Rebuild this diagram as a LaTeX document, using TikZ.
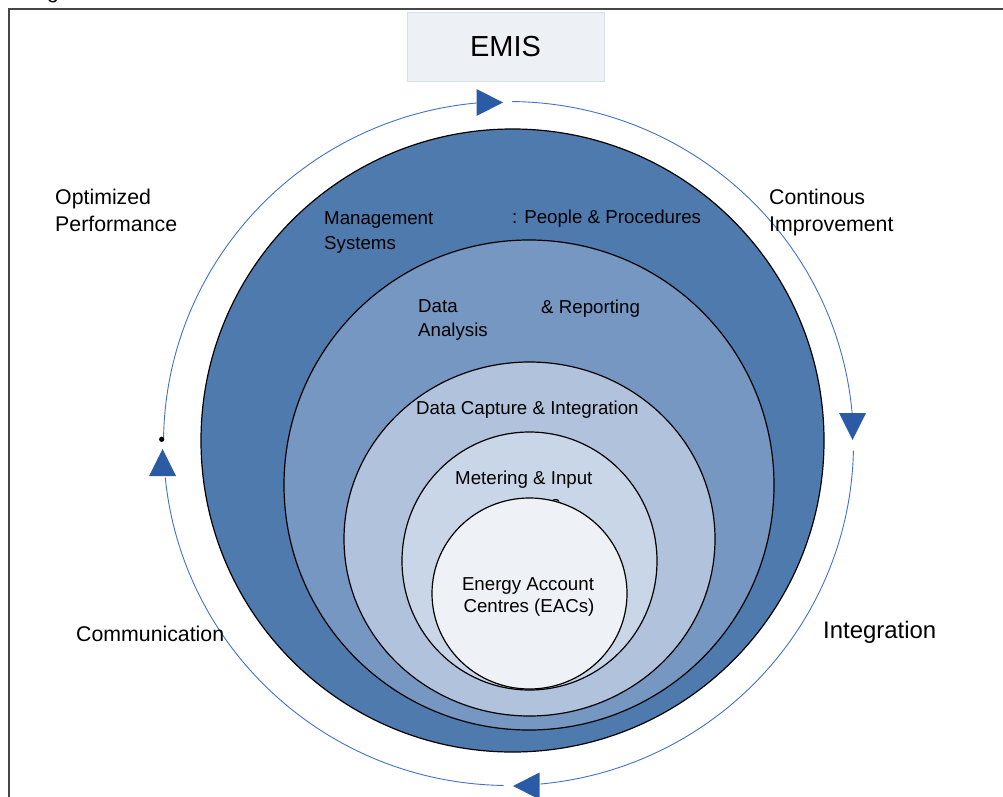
\documentclass[tikz,border=0pt]{standalone}
\usepackage{fontspec}
\setmainfont{Liberation Sans}
\definecolor{ringdark}{RGB}{79,122,173}
\definecolor{ringmid}{RGB}{117,151,194}
\definecolor{ringlight}{RGB}{177,195,220}
\definecolor{ringpale}{RGB}{201,214,231}
\definecolor{corefill}{RGB}{238,241,246}
\definecolor{cyclelinecol}{RGB}{68,114,196}
\definecolor{cyclearrowcol}{RGB}{43,91,164}
\definecolor{emisfill}{RGB}{237,240,245}
\definecolor{emisborder}{RGB}{208,226,238}
\definecolor{framecol}{RGB}{70,70,70}
\begin{document}
\begin{tikzpicture}[x=1pt,y=-1pt,
  layer/.style={draw=black, line width=1.2pt},
  cycleline/.style={draw=cyclelinecol, line width=0.9pt},
  cyclehead/.style={fill=cyclearrowcol},
  lbl/.style={font=\fontsize{18.7}{24}\selectfont, inner sep=0pt, anchor=base west},
  sidelbl/.style={font=\fontsize{21.3}{27}\selectfont, inner sep=0pt, anchor=base west}]
\useasboundingbox (0,0) rectangle (1003,797);

% caption remnant and frame
\node[font=\fontsize{21.3}{27}\selectfont, inner sep=0pt, anchor=base west] (capg) at (47,-1.8) {g};
\draw[framecol, line width=1.5pt] (9,820) -- (9,9) -- (1020,9);

% EMIS title box
\node[draw=emisborder, fill=emisfill, line width=0.8pt, minimum width=197pt, minimum height=69pt,
      font=\fontsize{29}{34}\selectfont, inner sep=0pt] (emis) at (505.5,46.5) {EMIS};

% nested layers
\filldraw[layer, fill=ringdark]  (512.5,440.5) circle[radius=311.5];
\filldraw[layer, fill=ringmid]   (529,485) circle[radius=245];
\filldraw[layer, fill=ringlight] (529.5,539) ellipse[x radius=185.5, y radius=177];
\filldraw[layer, fill=ringpale]  (529.5,561) ellipse[x radius=127.5, y radius=129];
\node[lbl] (meterhidden) at (551,509) {s};
\filldraw[layer, fill=corefill]  (529.5,593.5) ellipse[x radius=97.5, y radius=95.5];

% improvement cycle around the layers
\coordinate (ringc) at (508.5,443.5);
\draw[cycleline] ([shift={(180.7:345 and 342)}]ringc) arc[start angle=180.7, end angle=264.7, x radius=345, y radius=342];
\draw[cycleline] ([shift={(270.6:345 and 342)}]ringc) arc[start angle=270.6, end angle=355.2, x radius=345, y radius=342];
\draw[cycleline] ([shift={(361.2:345 and 342)}]ringc) arc[start angle=361.2, end angle=444.7, x radius=345, y radius=342];
\draw[cycleline] ([shift={(450.8:345 and 342)}]ringc) arc[start angle=450.8, end angle=534.3, x radius=345, y radius=342];
\fill[cyclehead] (503,102.5) -- (476.5,89) -- (476.5,116) -- cycle;
\fill[cyclehead] (852.5,440) -- (839,413) -- (866,413) -- cycle;
\fill[cyclehead] (513,786) -- (539.5,772.5) -- (539.5,799.5) -- cycle;
\fill[cyclehead] (162.5,449) -- (149,476) -- (176,476) -- cycle;
\fill[black] (161.7,439.3) circle[radius=2.6];

% side labels
\node[sidelbl] (opt1) at (55,204.7) {Optimized};
\node[sidelbl] (opt2) at (55,231.7) {Performance};
\node[sidelbl] (cont1) at (769,204.7) {Continous};
\node[sidelbl] (cont2) at (769,231.7) {Improvement};
\node[sidelbl] (comm) at (76,641.7) {Communication};
\node[font=\fontsize{23.9}{28}\selectfont, inner sep=0pt, anchor=base west] (integ) at (823,638.6) {Integration};

% layer labels
\node[lbl] (mgmt1) at (324,224.7) {Management};
\node[lbl] (mgmt2) at (324,249.7) {Systems};
\node[lbl] (people) at (512,223.7) {: People \& Procedures};
\node[lbl] (data1) at (418,312.7) {Data};
\node[lbl] (data2) at (418,336.7) {Analysis};
\node[lbl] (report) at (541,313.7) {\& Reporting};
\node[lbl] (capture) at (416,414.7) {Data Capture \& Integration};
\node[lbl] (meter) at (455,484.7) {Metering \& Input};
\node[lbl, anchor=base] (eac1) at (528,590.7) {Energy Account};
\node[lbl, anchor=base] (eac2) at (529,612.7) {Centres (EACs)};
\end{tikzpicture}
\end{document}
